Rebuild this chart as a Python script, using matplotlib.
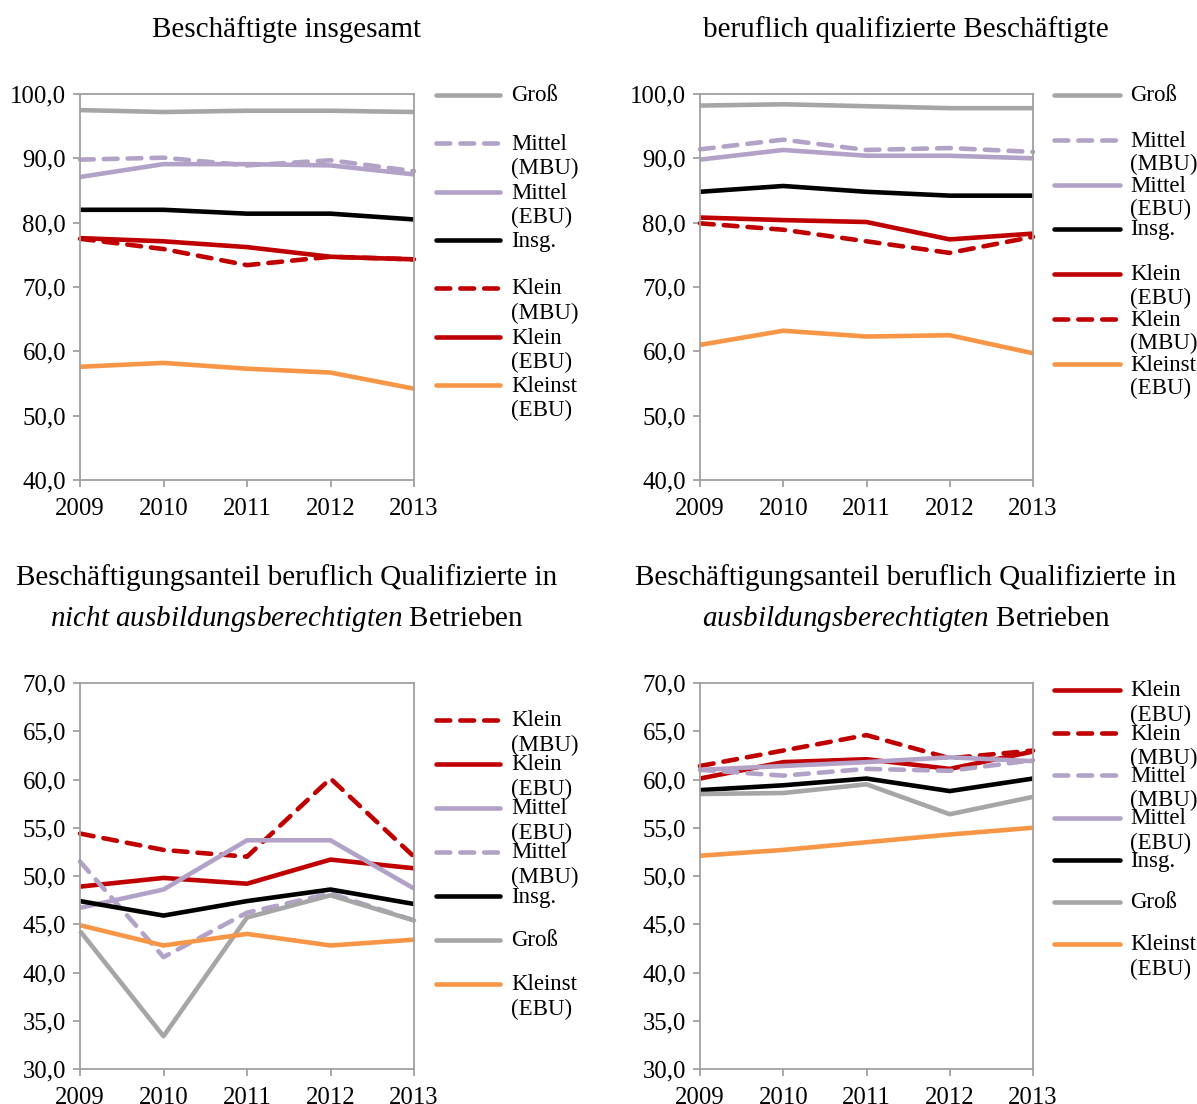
import matplotlib
matplotlib.use("Agg")
import matplotlib.pyplot as plt
from matplotlib.lines import Line2D

plt.rcParams['font.family'] = ['Liberation Serif', 'DejaVu Serif']
plt.rcParams['mathtext.fontset'] = 'custom'
plt.rcParams['mathtext.rm'] = 'Liberation Serif'
plt.rcParams['mathtext.it'] = 'Liberation Serif:italic'

W, H = 1197, 1104
years = [2009, 2010, 2011, 2012, 2013]

# Panel 1: Beschäftigte insgesamt
p1_gross = [97.5, 97.2, 97.4, 97.4, 97.2]
p1_mittel_mbu = [89.8, 90.1, 88.9, 89.7, 88.0]
p1_mittel_ebu = [87.1, 89.1, 89.1, 88.9, 87.5]
p1_insg = [82.0, 82.0, 81.4, 81.4, 80.5]
p1_klein_mbu = [77.5, 75.9, 73.4, 74.7, 74.3]
p1_klein_ebu = [77.6, 77.1, 76.2, 74.7, 74.3]
p1_kleinst = [57.6, 58.2, 57.3, 56.7, 54.2]

# Panel 2: beruflich qualifizierte Beschäftigte
p2_gross = [98.2, 98.4, 98.1, 97.8, 97.8]
p2_mittel_mbu = [91.4, 92.9, 91.3, 91.6, 91.0]
p2_mittel_ebu = [89.8, 91.3, 90.4, 90.4, 90.0]
p2_insg = [84.8, 85.7, 84.8, 84.2, 84.2]
p2_klein_ebu = [80.8, 80.4, 80.1, 77.4, 78.3]
p2_klein_mbu = [79.9, 78.9, 77.1, 75.3, 77.8]
p2_kleinst = [61.0, 63.2, 62.3, 62.5, 59.7]

# Panel 3: nicht ausbildungsberechtigte Betriebe
p3_klein_mbu = [54.4, 52.7, 52.0, 60.1, 52.0]
p3_klein_ebu = [48.9, 49.8, 49.2, 51.7, 50.8]
p3_mittel_ebu = [46.7, 48.6, 53.7, 53.7, 48.7]
p3_mittel_mbu = [51.5, 41.6, 46.2, 48.2, 45.4]
p3_insg = [47.4, 45.9, 47.4, 48.6, 47.1]
p3_gross = [44.3, 33.4, 45.7, 48.0, 45.4]
p3_kleinst = [44.9, 42.8, 44.0, 42.8, 43.4]

# Panel 4: ausbildungsberechtigte Betriebe
p4_klein_ebu = [60.1, 61.8, 62.1, 61.1, 62.9]
p4_klein_mbu = [61.4, 63.0, 64.6, 62.2, 63.0]
p4_mittel_mbu = [61.0, 60.4, 61.1, 60.9, 62.0]
p4_mittel_ebu = [61.0, 61.4, 61.8, 62.3, 61.9]
p4_insg = [58.9, 59.4, 60.1, 58.8, 60.1]
p4_gross = [58.5, 58.6, 59.5, 56.4, 58.2]
p4_kleinst = [52.1, 52.7, 53.5, 54.3, 55.0]

C_GRAY = '#A6A6A6'
C_LAV = '#B3A2C7'
C_BLACK = '#000000'
C_RED = '#C00000'
C_ORANGE = '#F79646'

STY = {
    'gross': (C_GRAY, '-'),
    'mittel_mbu': (C_LAV, '--'),
    'mittel_ebu': (C_LAV, '-'),
    'insg': (C_BLACK, '-'),
    'klein_mbu': (C_RED, '--'),
    'klein_ebu': (C_RED, '-'),
    'kleinst': (C_ORANGE, '-'),
}
LABELS = {
    'gross': ['Groß'],
    'mittel_mbu': ['Mittel', '(MBU)'],
    'mittel_ebu': ['Mittel', '(EBU)'],
    'insg': ['Insg.'],
    'klein_mbu': ['Klein', '(MBU)'],
    'klein_ebu': ['Klein', '(EBU)'],
    'kleinst': ['Kleinst', '(EBU)'],
}
LW = 3.3
DASHES = (3.0, 2.2)
TICK_FS = 17.8
LEG_FS = 16.5
TITLE_FS = 21

fig = plt.figure(figsize=(W / 100, H / 100), dpi=100)


def fx(px):
    return px / W


def fy(py):
    return 1 - py / H


def make_ax(left, top, right, bottom, ylim, yticks):
    ax = fig.add_axes([fx(left), fy(bottom), fx(right - left), (bottom - top) / H])
    ax.set_xlim(years[0], years[-1])
    ax.set_ylim(*ylim)
    ax.set_yticks(yticks)
    ax.set_yticklabels([f"{v:.1f}".replace('.', ',') for v in yticks])
    ax.set_xticks(years)
    ax.set_xticklabels([str(y) for y in years])
    for s in ax.spines.values():
        s.set_color('#A0A0A0')
        s.set_linewidth(1.3)
    ax.tick_params(axis='both', direction='out', length=5, width=1.3, color='#A0A0A0',
                   labelsize=TICK_FS, labelcolor='black')
    ax.tick_params(axis='y', pad=5)
    ax.tick_params(axis='x', pad=8)
    return ax


def plot_series(ax, order, data):
    for key in order:
        color, ls = STY[key]
        line, = ax.plot(years, data[key], color=color, lw=LW, solid_capstyle='butt',
                        solid_joinstyle='round', clip_on=False)
        if ls == '--':
            line.set_linestyle((0, DASHES))
            line.set_dash_capstyle('round')


def legend(order, x0, x1, xt, ys, dline):
    for key, y in zip(order, ys):
        color, ls = STY[key]
        ln = Line2D([fx(x0), fx(x1)], [fy(y), fy(y)], transform=fig.transFigure,
                    color=color, lw=LW, solid_capstyle='round')
        if ls == '--':
            ln.set_linestyle((0, DASHES))
            ln.set_dash_capstyle('round')
        fig.add_artist(ln)
        for i, t in enumerate(LABELS[key]):
            fig.text(fx(xt), fy(y + 1 + i * dline), t, ha='left', va='center', fontsize=LEG_FS)


# Panel 1
ax1 = make_ax(80, 94, 414, 480, (40, 100), [40, 50, 60, 70, 80, 90, 100])
order1 = ['gross', 'mittel_mbu', 'mittel_ebu', 'insg', 'klein_mbu', 'klein_ebu', 'kleinst']
data1 = dict(gross=p1_gross, mittel_mbu=p1_mittel_mbu, mittel_ebu=p1_mittel_ebu, insg=p1_insg,
             klein_mbu=p1_klein_mbu, klein_ebu=p1_klein_ebu, kleinst=p1_kleinst)
plot_series(ax1, order1, data1)
legend(order1, 436, 500, 511, [95, 143, 192, 240, 288, 337, 385], 24)
fig.text(fx(287), fy(30), 'Beschäftigte insgesamt', ha='center', va='center', fontsize=TITLE_FS)

# Panel 2
ax2 = make_ax(700, 94, 1033, 480, (40, 100), [40, 50, 60, 70, 80, 90, 100])
order2 = ['gross', 'mittel_mbu', 'mittel_ebu', 'insg', 'klein_ebu', 'klein_mbu', 'kleinst']
data2 = dict(gross=p2_gross, mittel_mbu=p2_mittel_mbu, mittel_ebu=p2_mittel_ebu, insg=p2_insg,
             klein_mbu=p2_klein_mbu, klein_ebu=p2_klein_ebu, kleinst=p2_kleinst)
plot_series(ax2, order2, data2)
legend(order2, 1054, 1120, 1130, [95, 140, 185, 229, 274, 319, 364], 23)
fig.text(fx(906), fy(30), 'beruflich qualifizierte Beschäftigte', ha='center', va='center', fontsize=TITLE_FS)

# Panel 3
ax3 = make_ax(80, 683, 414, 1069, (30, 70), [30, 35, 40, 45, 50, 55, 60, 65, 70])
order3 = ['klein_mbu', 'klein_ebu', 'mittel_ebu', 'mittel_mbu', 'insg', 'gross', 'kleinst']
data3 = dict(gross=p3_gross, mittel_mbu=p3_mittel_mbu, mittel_ebu=p3_mittel_ebu, insg=p3_insg,
             klein_mbu=p3_klein_mbu, klein_ebu=p3_klein_ebu, kleinst=p3_kleinst)
plot_series(ax3, order3, data3)
legend(order3, 436, 500, 511, [720, 764, 808, 852, 896, 940, 984], 24)
fig.text(fx(287), fy(578), 'Beschäftigungsanteil beruflich Qualifizierte in', ha='center', va='center', fontsize=TITLE_FS)
fig.text(fx(287), fy(619), r'$\mathit{nicht\ ausbildungsberechtigten}$ Betrieben', ha='center', va='center', fontsize=TITLE_FS)

# Panel 4
ax4 = make_ax(700, 683, 1033, 1069, (30, 70), [30, 35, 40, 45, 50, 55, 60, 65, 70])
order4 = ['klein_ebu', 'klein_mbu', 'mittel_mbu', 'mittel_ebu', 'insg', 'gross', 'kleinst']
data4 = dict(gross=p4_gross, mittel_mbu=p4_mittel_mbu, mittel_ebu=p4_mittel_ebu, insg=p4_insg,
             klein_mbu=p4_klein_mbu, klein_ebu=p4_klein_ebu, kleinst=p4_kleinst)
plot_series(ax4, order4, data4)
legend(order4, 1054, 1120, 1130, [690, 733, 775, 818, 860, 902, 944], 24)
fig.text(fx(906), fy(578), 'Beschäftigungsanteil beruflich Qualifizierte in', ha='center', va='center', fontsize=TITLE_FS)
fig.text(fx(906), fy(619), r'$\mathit{ausbildungsberechtigten}$ Betrieben', ha='center', va='center', fontsize=TITLE_FS)

fig.savefig('out.png', dpi=100)
